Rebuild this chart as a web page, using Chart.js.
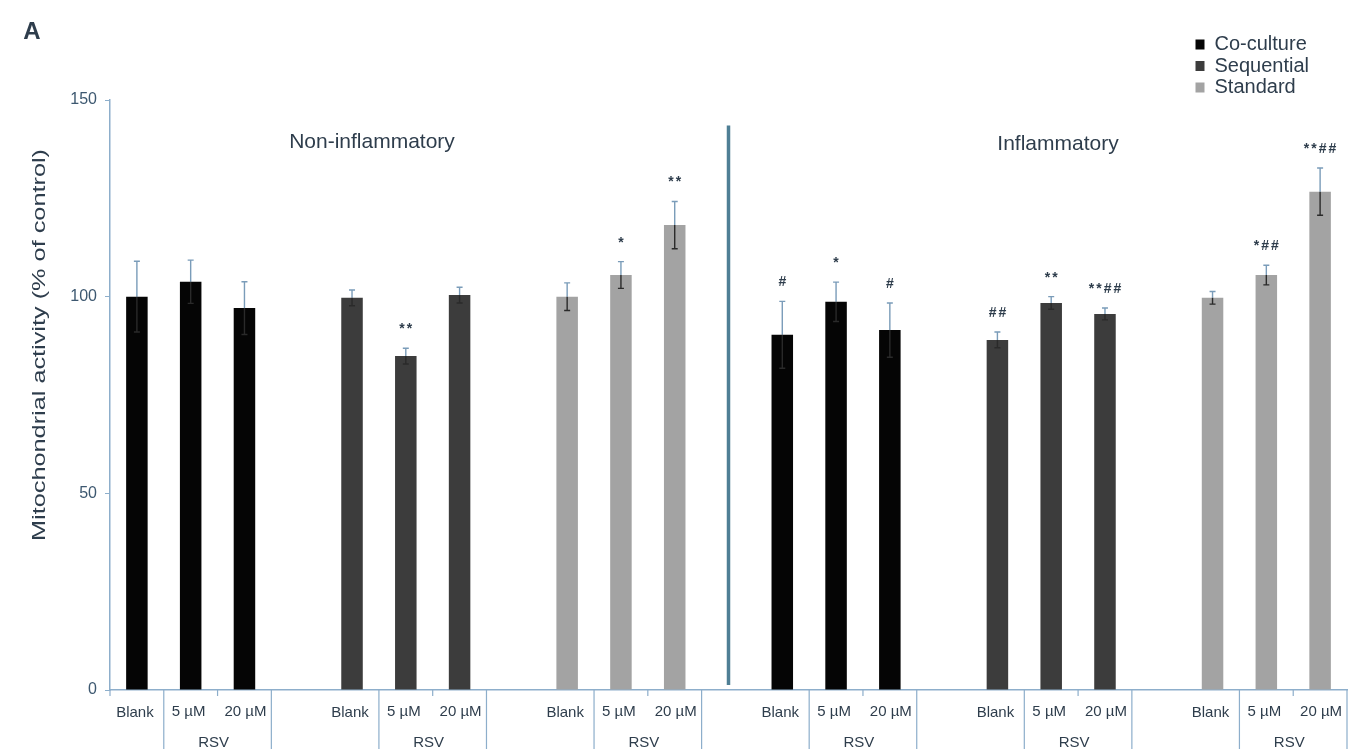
<!DOCTYPE html>
<html><head><meta charset="utf-8">
<script src="https://cdn.jsdelivr.net/npm/chart.js@4.4.1/dist/chart.umd.min.js"></script>
<style>html,body{margin:0;padding:0;background:#fff;}#wrap{width:1348px;height:749px;position:relative;}</style>
</head><body><div id="wrap"><canvas id="c" width="1348" height="749"></canvas></div>
<script>
// ---- data ----
const panelLetter = 'A';
const conditions = ['Non-inflammatory', 'Inflammatory'];
const models = ['Co-culture', 'Sequential', 'Standard'];
const doses = ['Blank', '5 µM', '20 µM'];
const doseGroup = 'RSV';
const yTitle = 'Mitochondrial activity (% of control)';
const yTicks = [0, 50, 100, 150];

const coCultureNonInfl = [100, 103.8, 97.1];
const coCultureInfl = [90.3, 98.7, 91.5];
const sequentialNonInfl = [99.7, 84.9, 100.4];
const sequentialInfl = [89, 98.4, 95.6];
const standardNonInfl = [100, 105.5, 118.2];
const standardInfl = [99.7, 105.5, 126.7];

const coCultureNonInflErr = [9, 5.5, 6.7];
const coCultureInflErr = [8.5, 5, 6.9];
const sequentialNonInflErr = [2, 2, 2];
const sequentialInflErr = [2, 1.6, 1.5];
const standardNonInflErr = [3.5, 3.4, 6];
const standardInflErr = [1.6, 2.5, 6];

const coCultureNonInflSig = ['', '', ''];
const coCultureInflSig = ['#', '*', '#'];
const sequentialNonInflSig = ['', '**', ''];
const sequentialInflSig = ['##', '**', '**##'];
const standardNonInflSig = ['', '*', '**'];
const standardInflSig = ['', '*##', '**##'];

// ---- build slots ----
const slotLabels = [];
conditions.forEach((c, ci) => models.forEach((m, mi) => {
  doses.forEach(d => slotLabels.push(d));
  if (!(ci === conditions.length - 1 && mi === models.length - 1)) slotLabels.push('');
}));
const nSlots = slotLabels.length;
function place(mi, nonInfl, infl) {
  const out = new Array(nSlots).fill(null);
  [nonInfl, infl].forEach((arr, ci) => arr.forEach((v, d) => { out[ci * 12 + mi * 4 + d] = v; }));
  return out;
}
const seriesValues = [
  place(0, coCultureNonInfl, coCultureInfl),
  place(1, sequentialNonInfl, sequentialInfl),
  place(2, standardNonInfl, standardInfl)
];
const seriesErrors = [
  place(0, coCultureNonInflErr, coCultureInflErr),
  place(1, sequentialNonInflErr, sequentialInflErr),
  place(2, standardNonInflErr, standardInflErr)
];
const seriesSig = [
  place(0, coCultureNonInflSig, coCultureInflSig),
  place(1, sequentialNonInflSig, sequentialInflSig),
  place(2, standardNonInflSig, standardInflSig)
];
const colors = ['#050505', '#3c3c3c', '#a3a3a3'];

// ---- style ----
const FONT = "'Liberation Sans', Arial, sans-serif";
const AXIS = '#8daecb';
const TEXT = '#2e3d4c';
const ERR_UP = '#7a9cb9';
const ERR_DN = '#2a2a2a';
Chart.defaults.font.family = FONT;

function stretchText(ctx, text, x, y, target) {
  const w = ctx.measureText(text).width;
  ctx.save();
  ctx.translate(x, y);
  ctx.scale(target / w, 1);
  ctx.fillText(text, 0, 0);
  ctx.restore();
}

const overlay = {
  id: 'overlay',
  afterLayout(chart) {
    const lg = chart.legend;
    if (!lg) return;
    lg.left = 1194; lg.top = 33; lg.right = 1345; lg.bottom = 112;
    lg.width = lg.right - lg.left; lg.height = lg.bottom - lg.top;
  },
  afterDatasetsDraw(chart) {
    const ctx = chart.ctx, ys = chart.scales.y;
    ctx.save();
    chart.data.datasets.forEach((ds, di) => {
      const meta = chart.getDatasetMeta(di);
      meta.data.forEach((bar, i) => {
        const v = ds.data[i];
        if (v === null || v === undefined) return;
        const e = seriesErrors[di][i];
        const top = ys.getPixelForValue(v + e);
        const bot = ys.getPixelForValue(v - e);
        const mid = ys.getPixelForValue(v);
        ctx.lineWidth = 1.4;
        ctx.strokeStyle = ERR_UP;
        ctx.beginPath();
        ctx.moveTo(bar.x, mid); ctx.lineTo(bar.x, top);
        ctx.moveTo(bar.x - 3, top); ctx.lineTo(bar.x + 3, top);
        ctx.stroke();
        ctx.strokeStyle = ERR_DN;
        ctx.beginPath();
        ctx.moveTo(bar.x, mid); ctx.lineTo(bar.x, bot);
        ctx.moveTo(bar.x - 3, bot); ctx.lineTo(bar.x + 3, bot);
        ctx.stroke();
        const s = seriesSig[di][i];
        if (s) {
          ctx.fillStyle = TEXT;
          ctx.font = 'bold 14px ' + FONT;
          ctx.letterSpacing = '2px';
          ctx.textAlign = 'center';
          ctx.textBaseline = 'middle';
          ctx.fillText(s, bar.x + 1, top - 19);
          ctx.letterSpacing = '0px';
        }
      });
    });
    ctx.restore();
  },
  afterDraw(chart) {
    const ctx = chart.ctx, xs = chart.scales.x, ys = chart.scales.y, ca = chart.chartArea;
    const slotW = xs.getPixelForValue(1) - xs.getPixelForValue(0);
    ctx.save();
    ctx.fillStyle = TEXT;
    // panel letter
    ctx.font = 'bold 24px ' + FONT;
    ctx.textAlign = 'center'; ctx.textBaseline = 'middle';
    ctx.fillText(panelLetter, 32, 32);
    // condition titles
    ctx.font = '21px ' + FONT;
    ctx.fillText(conditions[0], 372, 142);
    ctx.fillText(conditions[1], 1058, 144);
    // y title
    ctx.save();
    ctx.font = '19px ' + FONT;
    ctx.translate(40, 345);
    ctx.rotate(-Math.PI / 2);
    stretchText(ctx, yTitle, 0, 0, 392);
    ctx.restore();
    // separator between conditions
    const sx = xs.getPixelForValue(11);
    ctx.strokeStyle = '#4f7f95';
    ctx.lineWidth = 3.5;
    ctx.beginPath();
    ctx.moveTo(sx, ys.getPixelForValue(143.5));
    ctx.lineTo(sx, ys.getPixelForValue(1.3));
    ctx.stroke();
    // x category labels & dividers
    const base = ca.bottom;
    ctx.strokeStyle = AXIS;
    ctx.lineWidth = 1.2;
    ctx.beginPath();
    ctx.moveTo(ca.left, base); ctx.lineTo(ca.left, base + 6);
    ctx.stroke();
    ctx.font = '15px ' + FONT;
    for (let ci = 0; ci < conditions.length; ci++) {
      for (let mi = 0; mi < models.length; mi++) {
        const b = ci * 12 + mi * 4;
        const p0 = xs.getPixelForValue(b), p1 = xs.getPixelForValue(b + 1), p2 = xs.getPixelForValue(b + 2);
        ctx.fillStyle = TEXT;
        ctx.fillText(doses[0], p0 - 2, base + 23);
        ctx.fillText(doses[1], p1 - 2, base + 22);
        ctx.fillText(doses[2], p2 + 1, base + 22);
        ctx.fillText(doseGroup, (p1 + p2) / 2 - 4, base + 53);
        ctx.beginPath();
        [p0 + slotW / 2, p2 + slotW / 2].forEach(x => { ctx.moveTo(x, base); ctx.lineTo(x, chart.height); });
        const m = (p1 + p2) / 2;
        ctx.moveTo(m, base); ctx.lineTo(m, base + 6);
        ctx.stroke();
      }
    }
    ctx.restore();
  }
};

new Chart(document.getElementById('c'), {
  type: 'bar',
  data: {
    labels: slotLabels,
    datasets: models.map((m, i) => ({
      label: m,
      data: seriesValues[i],
      backgroundColor: colors[i],
      borderWidth: 0,
      grouped: false,
      barPercentage: 0.4,
      categoryPercentage: 1
    }))
  },
  options: {
    responsive: false,
    animation: false,
    layout: { padding: { top: 100, right: 1, left: 0, bottom: 0 } },
    plugins: {
      legend: {
        position: 'chartArea',
        align: 'start',
        labels: { boxWidth: 9, boxHeight: 10, padding: 1.5, color: TEXT, font: { size: 20, family: FONT } }
      },
      tooltip: { enabled: false }
    },
    scales: {
      x: {
        grid: { display: false },
        border: { display: true, color: AXIS, width: 1.5 },
        ticks: { display: false },
        afterFit(s) { s.height = 59; }
      },
      y: {
        min: yTicks[0], max: yTicks[yTicks.length - 1],
        afterBuildTicks(s) { s.ticks = yTicks.map(v => ({ value: v })); },
        grid: { display: true, drawOnChartArea: false, drawTicks: true, tickLength: 5, color: AXIS },
        border: { display: true, color: AXIS, width: 1.5 },
        ticks: { padding: 8, color: '#3d5870', font: { size: 16, family: FONT } },
        afterFit(s) { s.width = 110; }
      }
    }
  },
  plugins: [overlay]
});
</script>
</body></html>
